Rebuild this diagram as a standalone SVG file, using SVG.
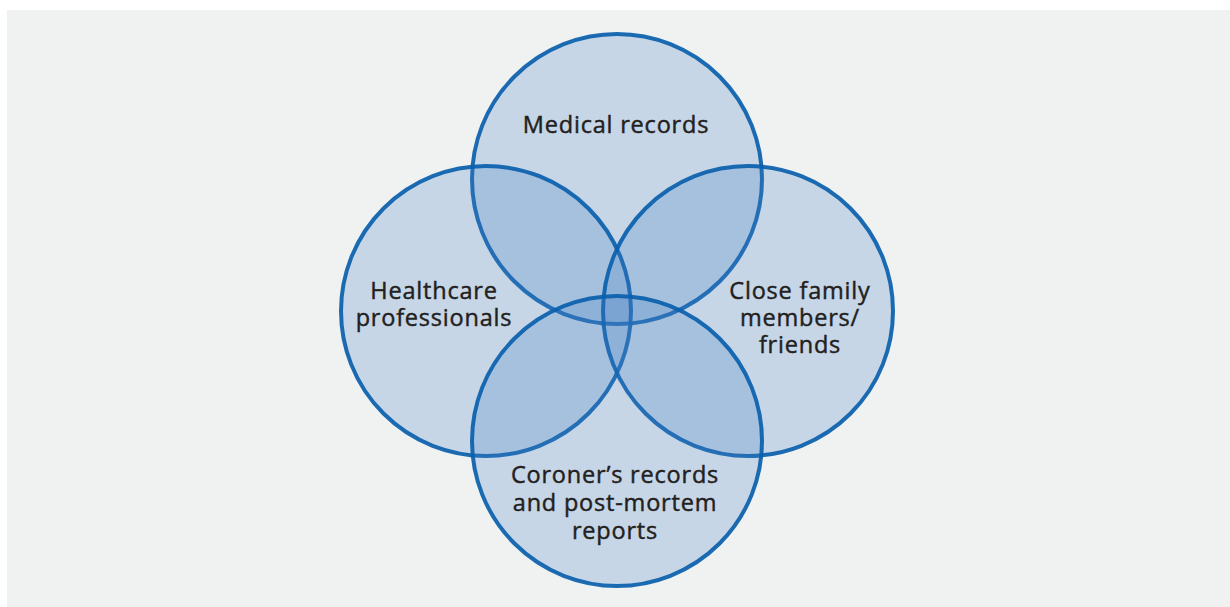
<svg xmlns="http://www.w3.org/2000/svg" width="1230" height="607" viewBox="0 0 1230 607">
  <style>
    .ring { fill: #417dc4; fill-opacity: 0.24; stroke: #0a60ac; stroke-opacity: 0.92; stroke-width: 4; }
    .label { font-family: "Open Sans", "Liberation Sans", sans-serif; font-size: 23.5px; font-weight: 400; letter-spacing: 0.8px; fill: #231f20; stroke: #231f20; stroke-width: 0.45; text-anchor: middle; }
  </style>
  <rect x="0" y="0" width="1230" height="607" fill="#ffffff"/>
  <rect x="7" y="10" width="1223" height="597" fill="#f0f2f2"/>

  <g id="medical-records">
    <circle class="ring" cx="617" cy="179" r="145"/>
    <text class="label" x="616" y="133">Medical records</text>
  </g>
  <g id="healthcare-professionals">
    <circle class="ring" cx="486" cy="311" r="145"/>
    <text class="label" x="434" y="299">Healthcare</text>
    <text class="label" x="434" y="326">professionals</text>
  </g>
  <g id="close-family">
    <circle class="ring" cx="748" cy="311" r="145"/>
    <text class="label" x="800" y="299">Close family</text>
    <text class="label" x="800" y="326">members/</text>
    <text class="label" x="800" y="353">friends</text>
  </g>
  <g id="coroner-records">
    <circle class="ring" cx="617" cy="441" r="145"/>
    <text class="label" x="615" y="483">Coroner’s records</text>
    <text class="label" x="615" y="511">and post-mortem</text>
    <text class="label" x="615" y="539">reports</text>
  </g>
  <g id="connectors"/>
</svg>
